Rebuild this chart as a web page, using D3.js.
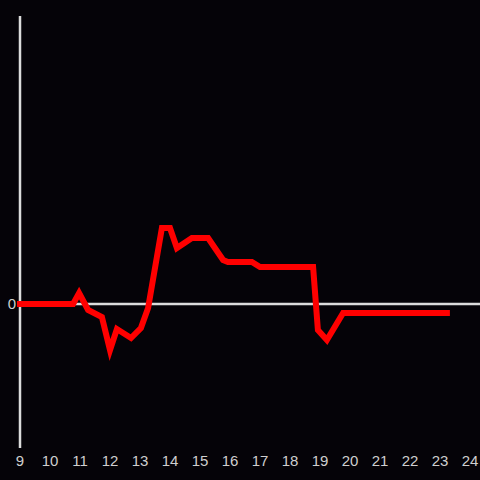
<!DOCTYPE html>
<html>
<head>
<meta charset="utf-8">
<script src="https://cdn.jsdelivr.net/npm/d3@7"></script>
<style>
  html, body { margin: 0; padding: 0; background: #050308; }
  svg { display: block; }
</style>
</head>
<body>
<div id="chart"></div>
<script>
// time of day in hours
var hours = [9, 10.77, 10.97, 11.27, 11.73, 12.0, 12.23, 12.7, 13.03, 13.27, 13.73, 14.0, 14.23,
    14.73, 15.27, 15.77, 15.93, 16.73, 17.0, 18.77, 18.93, 19.23, 19.77, 23.23];
var values = [0, 0, 1.1, -0.6, -1.3, -4.6, -2.5, -3.4, -2.4, -0.4, 7.6, 7.6, 5.6,
    6.6, 6.6, 4.4, 4.2, 4.2, 3.7, 3.7, -2.6, -3.6, -0.9, -0.9];
var xTicks = d3.range(9, 25);
var yTicks = [0];

var width = 480, height = 480;
var pad = { left: 20, top: 16, right: 10, bottom: 32 };

var svg = d3.select('#chart')
    .append('svg')
    .attr('width', width)
    .attr('height', height);

svg.append('rect')
    .attr('width', width)
    .attr('height', height)
    .attr('fill', '#050308');

var xScale = d3.scaleLinear()
    .domain([9, 24])
    .range([pad.left, pad.left + 450]);

var yScale = d3.scaleLinear()
    .domain([-14.4, 28.8])
    .range([height - pad.bottom, pad.top]);

// y axis line
svg.append('line')
    .attr('x1', xScale(9)).attr('x2', xScale(9))
    .attr('y1', yScale.range()[0]).attr('y2', yScale.range()[1])
    .style('stroke', '#dcdcdc')
    .style('stroke-width', 2.5);

// zero line
svg.append('line')
    .attr('x1', xScale(9)).attr('x2', width)
    .attr('y1', yScale(0)).attr('y2', yScale(0))
    .style('stroke', '#dcdcdc')
    .style('stroke-width', 2.5);

svg.selectAll('.xlabel')
    .data(xTicks)
    .enter()
    .append('text')
    .attr('class', 'xlabel')
    .attr('x', d => xScale(d))
    .attr('y', 466)
    .style('text-anchor', 'middle')
    .style('font-family', 'Liberation Sans, Arial, sans-serif')
    .style('font-size', '15px')
    .style('fill', '#cfcfcf')
    .text(d => d);

svg.selectAll('.ylabel')
    .data(yTicks)
    .enter()
    .append('text')
    .attr('class', 'ylabel')
    .attr('x', 16)
    .attr('y', d => yScale(d))
    .attr('dy', '0.35em')
    .style('text-anchor', 'end')
    .style('font-family', 'Liberation Sans, Arial, sans-serif')
    .style('font-size', '15px')
    .style('fill', '#cfcfcf')
    .text(d => d);

var line = d3.line()
    .x((d, i) => xScale(hours[i]))
    .y(d => yScale(d));

svg.append('path')
    .datum(values)
    .attr('d', line)
    .style('fill', 'none')
    .style('stroke', '#ff0000')
    .style('stroke-width', 6)
    .style('stroke-linecap', 'square')
    .style('stroke-linejoin', 'miter');
</script>
</body>
</html>
